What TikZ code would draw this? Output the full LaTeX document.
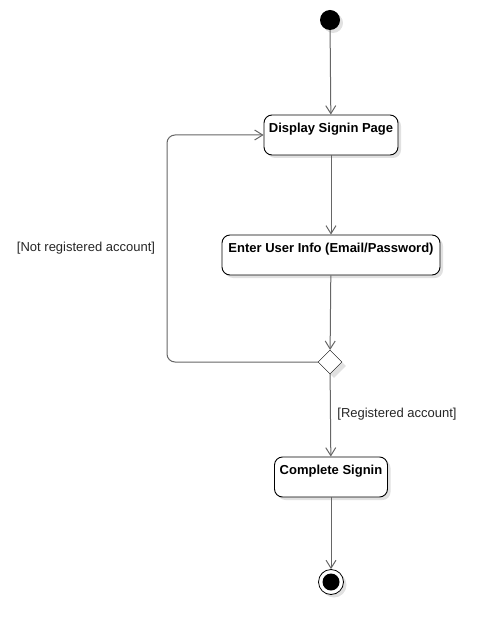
\documentclass[tikz,border=0pt]{standalone}
\usepackage{fontspec}
\setmainfont{Liberation Sans}
\usetikzlibrary{arrows.meta,positioning,shapes.geometric,shadows}
\definecolor{flowgray}{RGB}{102,102,102}
\definecolor{shadowgray}{RGB}{225,225,225}
\tikzset{
  umlshadow/.style={drop shadow={shadow xshift=3pt,shadow yshift=-3pt,fill=shadowgray,opacity=1}},
  actbox/.style={draw=black,fill=white,rounded corners=8pt,minimum height=40pt,line width=0.9pt,
                 align=center,font=\fontsize{13}{15}\selectfont\bfseries,umlshadow},
  decbox/.style={diamond,draw=black,fill=white,minimum width=24pt,minimum height=24pt,
                 inner sep=0pt,drop shadow={shadow xshift=4pt,shadow yshift=-4pt,fill=shadowgray,opacity=1}},
  startdot/.style={circle,fill=black,minimum size=20pt,inner sep=0pt,umlshadow},
  enddot/.style={circle,draw=black,fill=white,minimum size=25pt,inner sep=0pt,thick,umlshadow},
  flow/.style={draw=flowgray,line width=1pt,-{Straight Barb[length=8pt,width=10pt]}},
  guard/.style={font=\fontsize{13}{15}\selectfont,text=black!85}
}
\begin{document}
\begin{tikzpicture}[x=1pt,y=-1pt]
  \useasboundingbox (0,0) rectangle (498,636);
  % Aktywności
  \node[startdot] (start) at (330,20) {};
  \node[actbox,minimum width=134pt] (disp) at (331,135) {Display Signin Page\\\mbox{}};
  \node[actbox,minimum width=218pt] (info) at (331,255) {Enter User Info (Email/Password)\\\mbox{}};
  \node[decbox] (dec) at (330,362) {};
  \node[actbox,minimum width=113pt] (done) at (331,477) {Complete Signin\\\mbox{}};
  \node[enddot] (stop) at (331,582) {};
  \fill (stop) circle (8.5pt);
  % Przejścia
  \draw[flow] (start) -- (disp);
  \draw[flow] (disp) -- (info);
  \draw[flow] (info) -- (dec);
  \draw[flow] (dec) -- (done);
  \draw[flow] (done) -- (stop);
  \coordinate (loopcorner) at (167,362);
  \draw[flow,rounded corners=8pt] (dec.west) -- (loopcorner) |- (disp.west);
  \node[guard] (notreg) at (86,248) {[Not registered account]};
  \node[guard] (reg) at (397,414) {[Registered account]};
\end{tikzpicture}
\end{document}
